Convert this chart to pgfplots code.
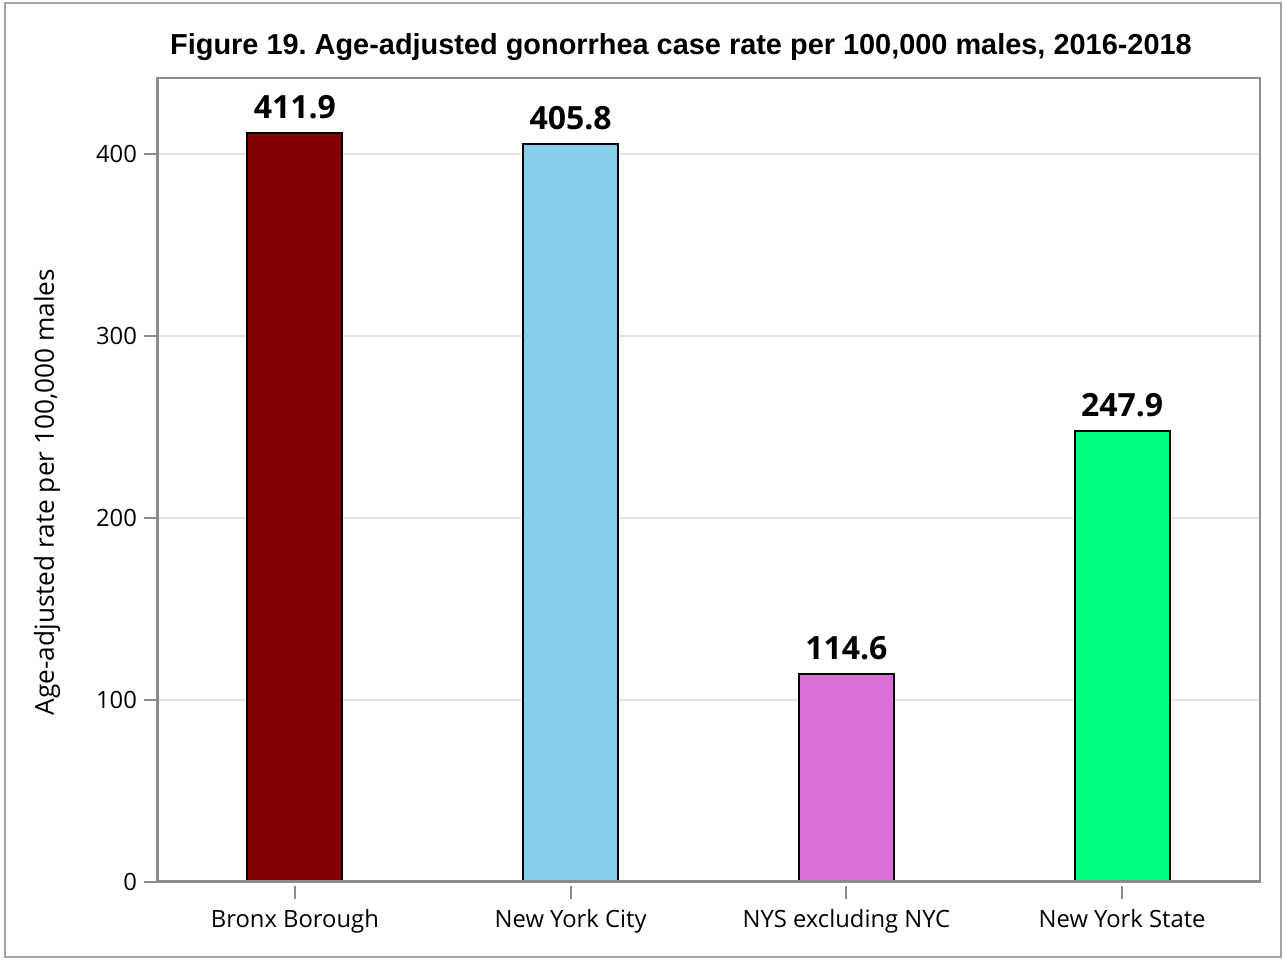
\documentclass[border=0pt]{standalone}
\usepackage{fontspec}
\setmainfont{Open Sans}
\newfontfamily\titlefont{Liberation Sans}
\usepackage{pgfplots}
\pgfplotsset{compat=1.18}
\frenchspacing

\definecolor{bronx}{HTML}{800000}
\definecolor{nyc}{HTML}{87CEEB}
\definecolor{nysx}{HTML}{DA70D6}
\definecolor{nys}{HTML}{00FF7F}
\definecolor{framegray}{HTML}{8C8C8C}
\definecolor{gridgray}{HTML}{E3E3E3}

\begin{document}
\begin{tikzpicture}
\useasboundingbox (0,0) rectangle (641.5pt,480pt);
\draw[framegray!80, line width=1pt] (2.5pt,1.5pt) rectangle (640.5pt,478.5pt);
\node[font=\titlefont\bfseries\fontsize{14.45}{16}\selectfont] at (340.5pt,456.5pt)
  {Figure 19. Age-adjusted gonorrhea case rate per 100,000 males, 2016-2018};
\begin{axis}[
    at={(78.5pt,39pt)}, anchor=south west,
    scale only axis,
    width=551.5pt, height=402pt,
    xmin=-0.5, xmax=3.5,
    ymin=0, ymax=442,
    xtick={0,1,2,3},
    xticklabels={Bronx Borough,New York City,NYS excluding NYC,New York State},
    ytick={0,100,200,300,400},
    xtick pos=bottom, ytick pos=left,
    ymajorgrids,
    grid style={draw=gridgray, line width=1pt},
    axis line style={draw=framegray, line width=1pt},
    tick align=outside,
    tick style={draw=framegray, line width=1pt},
    major tick length=6.5pt,
    xtick style={yshift=-2pt},
    tick label style={font=\fontsize{11.9}{14}\selectfont},
    xticklabel style={yshift=-3.5pt},
    /pgf/number format/assume math mode=true,
    ylabel={Age-adjusted rate per 100,000 males},
    ylabel style={at={(axis description cs:-0.0997,0.485)}, anchor=center,
        font=\fontsize{13.1}{15}\selectfont},
    ybar, bar width=0.345, bar shift=0pt,
    nodes near coords,
    nodes near coords style={font=\bfseries\fontsize{16}{18}\selectfont,
        inner sep=0pt, yshift=6.5pt},
]
\addplot[draw=black, line width=1pt, fill=bronx] coordinates {(0,411.9)};
\addplot[draw=black, line width=1pt, fill=nyc] coordinates {(1,405.8)};
\addplot[draw=black, line width=1pt, fill=nysx] coordinates {(2,114.6)};
\addplot[draw=black, line width=1pt, fill=nys] coordinates {(3,247.9)};
\draw[framegray, line width=1.6pt] (axis description cs:0,1) -- (axis description cs:0,0) -- (axis description cs:1,0);
\end{axis}
\end{tikzpicture}
\end{document}
